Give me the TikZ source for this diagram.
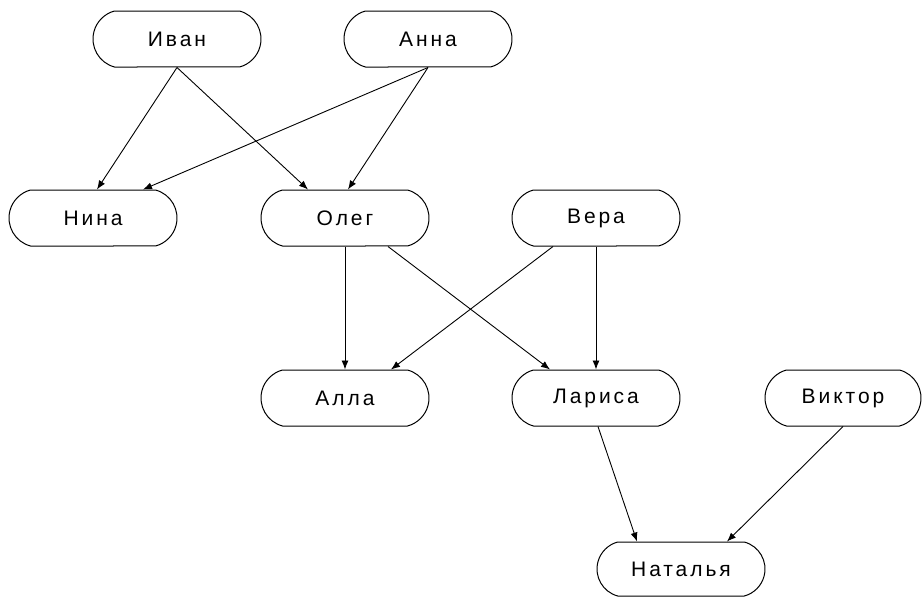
\documentclass[tikz,border=0pt]{standalone}
\usepackage{fontspec}
\setmainfont[LetterSpace=14]{Liberation Sans}
\usetikzlibrary{arrows.meta,shapes.misc}
\begin{document}
\begin{tikzpicture}[x=1pt,y=-1pt,
  person/.style={draw, line width=1pt, rounded rectangle, rounded rectangle arc length=150, minimum width=168pt, minimum height=56pt, inner sep=0pt, font=\fontsize{21}{24}\selectfont},
  link/.style={draw, line width=0.9pt, -{Latex[length=9pt,width=7pt]}}]
\useasboundingbox (0,0) rectangle (924,597);
\node[person] (ivan) at (177,39) {Иван};
\node[person] (anna) at (428,39) {Анна};
\node[person] (nina) at (93,218) {Нина};
\node[person] (oleg) at (345,218) {Олег};
\node[person] (vera) at (596,218) {Вера};
\node[person] (alla) at (345,398) {Алла};
\node[person] (larisa) at (596,398) {Лариса};
\node[person, minimum width=156pt] (viktor) at (843,398) {Виктор};
\node[person, minimum height=54pt] (natalya) at (681,569) {Наталья};
\draw[link] (ivan.south) -- ([xshift=4pt]nina.north);
\draw[link] (ivan.south) -- ([xshift=-37pt]oleg.north);
\draw[link] (anna.south) -- ([xshift=50pt]nina.north);
\draw[link] (anna.south) -- ([xshift=3pt]oleg.north);
\draw[link] (oleg.south) -- (alla.north);
\draw[link] ([xshift=43pt]oleg.south) -- ([xshift=-46pt]larisa.north);
\draw[link] ([xshift=-43pt]vera.south) -- ([xshift=46pt]alla.north);
\draw[link] (vera.south) -- (larisa.north);
\draw[link] ([xshift=2pt]larisa.south) -- ([xshift=-44pt]natalya.north);
\draw[link] (viktor.south) -- ([xshift=46pt]natalya.north);
\end{tikzpicture}
\end{document}
